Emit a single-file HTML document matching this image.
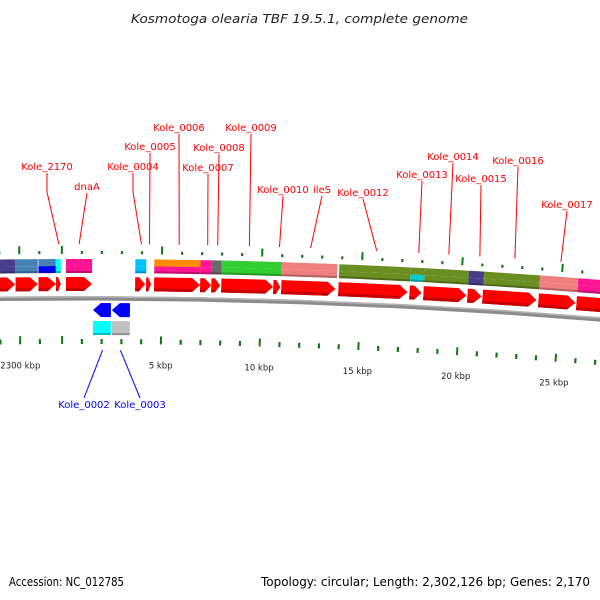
<!DOCTYPE html>
<html><head><meta charset="utf-8"><style>
html,body{margin:0;padding:0;background:#fff}
svg{display:block}
text{font-family:"DejaVu Sans","Liberation Sans",sans-serif}
</style></head><body>
<svg id="map" width="600" height="600" viewBox="0 0 600 600" xmlns="http://www.w3.org/2000/svg">
<text x="131" y="23" font-size="12.5" font-style="italic" fill="#222" textLength="337" lengthAdjust="spacingAndGlyphs">Kosmotoga olearia TBF 19.5.1, complete genome</text>
<text x="9" y="586" font-size="12" fill="#000" textLength="115" lengthAdjust="spacingAndGlyphs">Accession: NC_012785</text>
<text x="261" y="586" font-size="12" fill="#000" textLength="329" lengthAdjust="spacingAndGlyphs">Topology: circular; Length: 2,302,126 bp; Genes: 2,170</text>
<g id="layer"></g>
</svg>
<script>
const GENOME_KBP = 2302.126;
const fwdStarts = [2299.0, 2299.8, 2300.95, 2301.83, 0.20, 3.67, 4.22, 4.62, 6.93, 7.49, 7.99, 10.60, 11.0, 13.87, 17.44, 18.14, 20.35, 21.11, 23.92, 25.83];
const fwdEnds   = [2299.78, 2300.92, 2301.82, 2302.07, 1.51, 4.17, 4.47, 6.93, 7.49, 7.94, 10.60, 10.95, 13.72, 17.34, 18.04, 20.30, 21.06, 23.82, 25.78, 28.5];
const cogStarts = [2299.0, 2299.78, 2300.95, 2301.82, 0.20, 3.67, 4.62, 6.93, 7.49, 7.99, 11.0, 13.87, 17.44, 18.14, 20.35, 21.11, 23.92, 25.83];
const cogEnds   = [2299.78, 2300.92, 2301.82, 2302.07, 1.51, 4.22, 6.93, 7.49, 7.99, 11.0, 13.77, 17.44, 18.14, 20.35, 21.11, 23.92, 25.83, 28.5];
const cogTop    = ["#483d8b","#4682b4","#4682b4","#00ffff","#ff1493","#00bfff","#ff8c00","#ff1493","#696969","#32cd32","#f08080","#6b8e23","#6b8e23","#6b8e23","#483d8b","#6b8e23","#f08080","#ff1493"];
const cogBot    = ["#483d8b","#4682b4","#0000ff","#00ffff","#ff1493","#00bfff","#ff1493","#ff1493","#696969","#32cd32","#f08080","#6b8e23","#00ced1","#6b8e23","#483d8b","#6b8e23","#f08080","#ff1493"];
const revStarts = [1.56, 2.51];
const revEnds   = [2.46, 3.42];
const revCog    = ["#00ffff","#c0c0c0"];
const fLabels = ["Kole_2170","dnaA","Kole_0004","Kole_0005","Kole_0006","Kole_0007","Kole_0008","Kole_0009","Kole_0010","ileS","Kole_0012","Kole_0013","Kole_0014","Kole_0015","Kole_0016","Kole_0017"];
const fLabelX = [47,87,133,150,179,208,219,251,283,322,363,422,453,481,518,567];
const fLabelY = [170,190,170,150,131,171,151,131,193,193,196,178,160,182,164,208];
const fLabelPos = [2301.975, 0.86, 3.97, 4.37, 5.85, 7.27, 7.77, 9.35, 10.85, 12.4, 15.7, 17.8, 19.3, 20.85, 22.6, 24.9];
const rLabels = ["Kole_0002","Kole_0003"];
const rLabelX = [84,140];
const rLabelPos = [2.05, 2.95];
const majorTicks = [2300, 0, 5, 10, 15, 20, 25];
const tickLabels = ["2300 kbp","", "5 kbp","10 kbp","15 kbp","20 kbp","25 kbp"];

const PX_PER_KBP = 19.9, S0 = 62, R = 6440, CX = 80, BASE = 296;
const CY = BASE + R;
function sOf(k){ if(k > GENOME_KBP/2) k -= GENOME_KBP; return S0 + k*PX_PER_KBP; }
function pt(s, r){ const t=(s-CX)/R; return [CX+(R+r)*Math.sin(t), CY-(R+r)*Math.cos(t)]; }
function P(list){ return list.map(p=>p[0].toFixed(2)+','+p[1].toFixed(2)).join(' '); }
const NS="http://www.w3.org/2000/svg", layer=document.getElementById('layer');
function mk(tag, attrs){ const e=document.createElementNS(NS,tag); for(const k in attrs) e.setAttribute(k,attrs[k]); layer.appendChild(e); return e; }
function band(s1,s2,r1,r2){ const pts=[]; const n=6; for(let i=0;i<=n;i++) pts.push(pt(s1+(s2-s1)*i/n,r2)); for(let i=n;i>=0;i--) pts.push(pt(s1+(s2-s1)*i/n,r1)); return P(pts); }

let bb = mk('polygon',{points:band(-5,605,-4.5,0),fill:'#8c8c8c'});


let bb2 = mk('polygon',{points:band(-5,605,-1.5,0),fill:'#b5b5b5'});



for(let i=0;i<fwdStarts.length;i++){
  const a=sOf(fwdStarts[i]), b=sOf(fwdEnds[i]); const h=Math.min(8,(b-a)*0.6);
  const poly=mk('polygon',{points:P([pt(a,5),pt(a,19),pt(b-h,19),pt(b,12),pt(b-h,5)]),fill:'#ff0000'});
  
  
  const sh=mk('polygon',{points:P([pt(a,5),pt(a,8),pt(b-h*0.6,8),pt(b-h,5)]),fill:'#c40000'});
  
  
}
for(let i=0;i<cogStarts.length;i++){
  const a=sOf(cogStarts[i]), b=sOf(cogEnds[i]);
  const t=mk('polygon',{points:band(a,b,30,37),fill:cogTop[i]});
  
  
  const u=mk('polygon',{points:band(a,b,23,30),fill:cogBot[i]});
  
  
  const d=mk('polygon',{points:band(a,b,23,25),fill:'rgba(0,0,0,0.25)'});
  
  
}
for(let i=0;i<revStarts.length;i++){
  const a=sOf(revStarts[i]), b=sOf(revEnds[i]); const h=Math.min(8,(b-a)*0.6);
  const poly=mk('polygon',{points:P([pt(b,-7),pt(b,-21),pt(a+h,-21),pt(a,-14),pt(a+h,-7)]),fill:'#0000ff'});
  
  
  const c=mk('polygon',{points:band(a,b,-39,-25),fill:revCog[i]});
  
  
  const d=mk('polygon',{points:band(a,b,-39,-37),fill:'rgba(0,0,0,0.25)'});
  
  
}
for(let k=-4;k<=29;k++){
  const kb = k<0 ? GENOME_KBP + k - 0.126 : k;
  const s=sOf(kb);
  const isMajor = majorTicks.indexOf(Math.round(kb))>=0 && (k>=0 || Math.round(kb)===2300);
  [[42,isMajor?50:45],[-48,isMajor?-40:-43]].forEach(([r1,r2],j)=>{
    const p1=pt(s,r1),p2=pt(s,r2);
    const l=mk('line',{x1:p1[0],y1:p1[1],x2:p2[0],y2:p2[1],stroke:'#117a11','stroke-width':isMajor?2:2.2});
    
    
  });
}
for(let i=0;i<majorTicks.length;i++){
  if(!tickLabels[i]) continue;
  const p=pt(sOf(majorTicks[i]),-69);
  const t=mk('text',{x:p[0],y:p[1]+3,'font-size':'8.5','text-anchor':'middle',fill:'#222'});
  t.textContent=tickLabels[i];
  
  
}
for(let i=0;i<fLabels.length;i++){
  const p=pt(sOf(fLabelPos[i]),52);
  const x=fLabelX[i], y=fLabelY[i]+3;
  const elbow = (fLabels[i]==='Kole_2170'||fLabels[i]==='Kole_0004') ? [x,y+19] : [x,y];
  const l=mk('polyline',{points:P([[x,y],elbow,p]),fill:'none',stroke:'#ff0000','stroke-width':1});
  
  
  const t=mk('text',{x:x,y:fLabelY[i],'font-size':'10','text-anchor':'middle',fill:'#ff0000'});
  t.textContent=fLabels[i];
  
  
}
for(let i=0;i<rLabels.length;i++){
  const p=pt(sOf(rLabelPos[i]),-54);
  const l=mk('line',{x1:p[0],y1:p[1],x2:rLabelX[i],y2:398,stroke:'#0000ff','stroke-width':1});
  
  
  const t=mk('text',{x:rLabelX[i],y:408,'font-size':'10','text-anchor':'middle',fill:'#0000ff'});
  t.textContent=rLabels[i];
  
  
}
</script>
</body></html>
